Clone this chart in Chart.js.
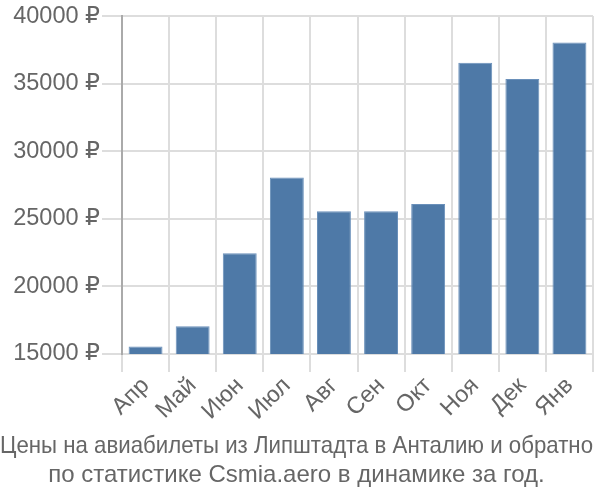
<!DOCTYPE html>
<html>
<head>
<meta charset="utf-8">
<script src="https://cdn.jsdelivr.net/npm/chart.js@4/dist/chart.umd.min.js"></script>
<style>
  html, body { margin: 0; padding: 0; background: #fff; }
  #wrap { width: 600px; height: 500px; }
</style>
</head>
<body>
<div id="wrap"><canvas id="c"></canvas></div>
<script>
// months and prices (rub)
const months = ['Апр', 'Май', 'Июн', 'Июл', 'Авг', 'Сен', 'Окт', 'Ноя', 'Дек', 'Янв'];
const prices = [15550, 17050, 22450, 28050, 25550, 25550, 26100, 36550, 35350, 38050];
const titleLines = [
  'Цены на авиабилеты из Липштадта в Анталию и обратно',
  'по статистике Csmia.aero в динамике за год.',
];

const FONT = "'Liberation Sans', 'DejaVu Sans', sans-serif";
const TEXT = '#666';

new Chart(document.getElementById('c'), {
  type: 'bar',
  data: {
    labels: months,
    datasets: [{
      data: prices,
      backgroundColor: '#4e79a7',
      borderColor: '#6a90ba',
      borderWidth: 1,
      barPercentage: 0.72,
      categoryPercentage: 1,
    }],
  },
  options: {
    responsive: true,
    maintainAspectRatio: false,
    animation: false,
    layout: { padding: { left: 0, right: 7, top: 3, bottom: 0 } },
    plugins: {
      legend: { display: false },
      tooltip: { enabled: false },
      title: {
        display: true,
        position: 'bottom',
        text: titleLines,
        color: TEXT,
        font: { family: FONT, size: 24, weight: 'normal', lineHeight: 1.2 },
        padding: { top: 0, bottom: 10 },
      },
    },
    scales: {
      x: {
        grid: { offset: true, color: '#ddd', lineWidth: 2, tickLength: 18 },
        border: { color: '#ddd' },
        afterFit(s) { s.height = 78.5; },
        ticks: {
          color: TEXT,
          maxRotation: 45,
          minRotation: 45,
          font: { family: FONT, size: 23.5 },
          padding: 0,
        },
      },
      y: {
        min: 15000,
        max: 40000,
        grid: { color: '#ddd', lineWidth: 2, tickLength: 20 },
        border: { color: '#aaa', width: 2 },
        afterFit(s) { s.width = 122; },
        ticks: {
          stepSize: 5000,
          color: TEXT,
          padding: 2,
          font: { family: FONT, size: 23.5 },
          callback: v => v + ' ₽',
        },
      },
    },
  },
});
</script>
</body>
</html>
